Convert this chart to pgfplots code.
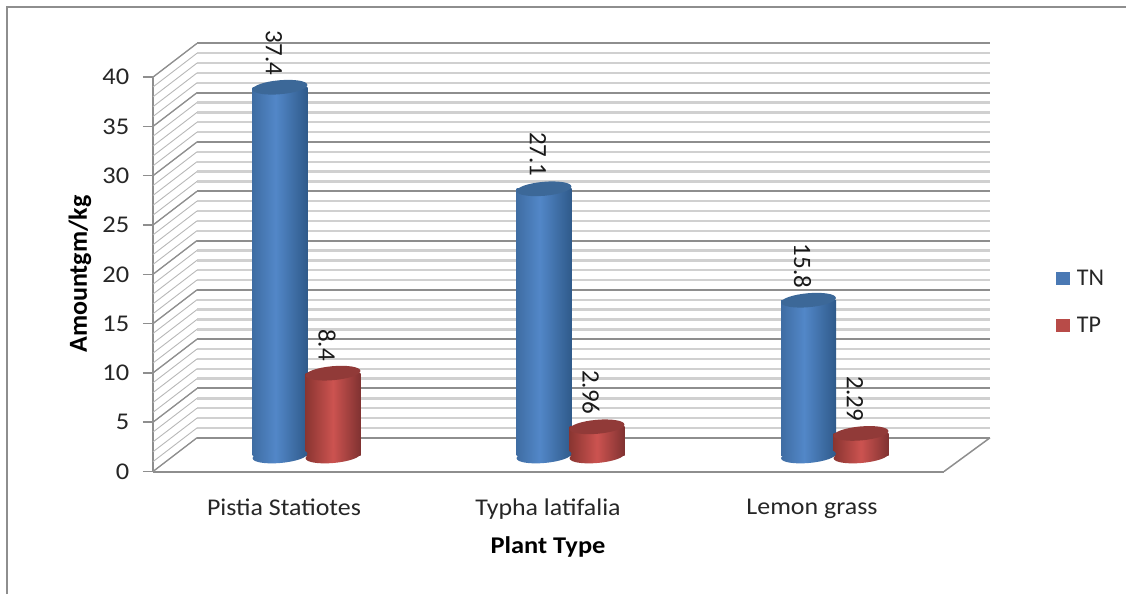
\documentclass[border=0pt]{standalone}
\usepackage{fontspec}
\setmainfont{Carlito}
\usepackage{pgfplots}
\pgfplotsset{compat=1.18}

\definecolor{tnedgeL}{HTML}{3F6DA3}
\definecolor{tnmid}{HTML}{5287C8}
\definecolor{tnedgeR}{HTML}{2F5A8A}
\definecolor{tncap}{HTML}{3C6898}
\definecolor{tpedgeL}{HTML}{8A3531}
\definecolor{tpmid}{HTML}{CC5350}
\definecolor{tpedgeR}{HTML}{803231}
\definecolor{tpcap}{HTML}{913A38}
\definecolor{gridmaj}{HTML}{8E8E8E}
\definecolor{gridmin}{HTML}{D0D0D0}

\pgfdeclarehorizontalshading{cylblue}{100bp}{color(0bp)=(tnedgeL); color(25bp)=(tnedgeL); color(46bp)=(tnmid); color(75bp)=(tnedgeR); color(100bp)=(tnedgeR)}
\pgfdeclarehorizontalshading{cylred}{100bp}{color(0bp)=(tpedgeL); color(25bp)=(tpedgeL); color(50bp)=(tpmid); color(75bp)=(tpedgeR); color(100bp)=(tpedgeR)}

% tilted ends of the cylinders
\pgfdeclareplotmark{cylcap}{%
  \pgftransformrotate{5}%
  \pgfpathellipse{\pgfpointorigin}{\pgfqpoint{27.5pt}{0pt}}{\pgfqpoint{0pt}{7pt}}%
  \pgfusepathqfill}
\pgfdeclareplotmark{baseblue}{%
  \pgftransformrotate{5}%
  \pgfpathellipse{\pgfpointorigin}{\pgfqpoint{27.5pt}{0pt}}{\pgfqpoint{0pt}{7pt}}%
  \pgfshadepath{cylblue}{0}\pgfusepath{discard}}
\pgfdeclareplotmark{basered}{%
  \pgftransformrotate{5}%
  \pgfpathellipse{\pgfpointorigin}{\pgfqpoint{27.5pt}{0pt}}{\pgfqpoint{0pt}{7pt}}%
  \pgfshadepath{cylred}{0}\pgfusepath{discard}}

\newcommand\txt{\fontsize{24}{28}\selectfont}

\begin{document}
\begin{tikzpicture}[x=1pt,y=1pt]
  \useasboundingbox (-153,-122.5) rectangle (973,471.5);
  % chart frame
  \draw[gridmaj,line width=2.2pt] (-146,-122.5) -- (-146,464.5) -- (973,464.5);

  % back wall
  \begin{axis}[
      at={(44pt,33.7pt)}, anchor=south west,
      scale only axis, width=793pt, height=394.4pt,
      xmin=0, xmax=1, ymin=0, ymax=40,
      axis line style={draw=none},
      tick style={draw=none},
      xtick=\empty, ytick={0,5,...,40}, yticklabels={},
      minor y tick num=4,
      ymajorgrids, yminorgrids,
      major grid style={draw=gridmaj,line width=2pt},
      minor grid style={draw=gridmin,line width=2.4pt},
    ]
    \addplot[draw=none] coordinates {(0,0) (1,40)};
  \end{axis}

  % front axes, side wall, floor
  \begin{axis}[
      at={(0pt,0pt)}, anchor=south west,
      scale only axis, width=791pt, height=394.4pt,
      xmin=153, xmax=944, ymin=0, ymax=40,
      axis x line*=bottom, axis y line*=left,
      axis line style={draw=gridmaj,line width=2pt,-},
      clip=false,
      ytick={0,5,...,40},
      xtick={284,548,812},
      xticklabels={Pistia Statiotes,Typha latifalia,Lemon grass},
      tick align=outside,
      major tick length=10pt,
      major y tick style={draw=gridmaj,line width=1.6pt},
      major x tick style={draw=none},
      tick label style={font=\txt,text=black!85},
      yticklabel style={xscale=1.1,xshift=-9pt,/pgf/number format/assume math mode=true},
      xticklabel style={xscale=1.08,yshift=-14pt},
      ylabel={\textbf{Amountgm/kg}},
      xlabel={\textbf{Plant Type}},
      every axis y label/.style={at={(axis cs:80,20.02)},anchor=center,rotate=90,font=\fontsize{26}{30}\selectfont},
      every axis x label/.style={at={(axis cs:548,-7.7)},anchor=center,xscale=1.1,font=\txt},
    ]
    \addplot[draw=none,forget plot] coordinates {(153,0) (944,40)};
    \pgfplotsinvokeforeach{0,...,40}{
      \draw[black!28,line width=0.9pt] (axis cs:153,#1) -- (axis cs:197,#1+3.42);
    }
    \pgfplotsinvokeforeach{0,5,...,40}{
      \draw[gridmaj,line width=1.3pt] (axis cs:153,#1) -- (axis cs:197,#1+3.42);
    }
    \draw[gridmaj,line width=1.5pt] (axis cs:944,0) -- (axis cs:990,3.42);
  \end{axis}

  % cylinders; the axis is shifted so that a value of 0 is the foot of a cylinder
  \begin{axis}[
      at={(0pt,0pt)}, anchor=south west,
      scale only axis, width=791pt, height=394.4pt,
      xmin=153, xmax=944, ymin=-1.572, ymax=38.428,
      hide axis, clip=false,
      /pgf/number format/assume math mode=true,
      legend style={at={(axis cs:1053,15.6)},anchor=west,draw=none,fill=none,
        row sep=30pt,font=\txt,nodes={inner sep=0pt,text=black!85}},
      legend cell align=left,
      legend image code/.code={\fill[draw=none,#1] (0pt,-6.5pt) rectangle (13.5pt,6.5pt);\path (20.5pt,0pt);},
      nodes near coords style={font=\fontsize{25}{29}\selectfont,text=black!90,xshift=-6pt,yshift=12pt,rotate=-90,anchor=east,inner sep=0pt},
    ]
    % TN
    \addplot[only marks,mark=baseblue,forget plot] coordinates {(280,0) (544,0) (808.5,0)};
    \addplot[ybar,bar width=55pt,bar shift=0pt,draw=none,shading=cylblue,mark=none,forget plot]
      coordinates {(280,37.4)};
    \addplot[ybar,bar width=55pt,bar shift=0pt,draw=none,shading=cylblue,mark=none,forget plot]
      coordinates {(544,27.1)};
    \addplot[ybar,bar width=55pt,bar shift=0pt,draw=none,shading=cylblue,mark=none,forget plot]
      coordinates {(808.5,15.8)};
    \addplot[only marks,mark=cylcap,mark options={fill=tncap,draw=none},forget plot,
      nodes near coords] coordinates {(280,37.4) (544,27.1) (808.5,15.8)};
    % TP
    \addplot[only marks,mark=basered,forget plot] coordinates {(333,0) (597,0) (861,0)};
    \addplot[ybar,bar width=55pt,bar shift=0pt,draw=none,shading=cylred,mark=none,forget plot]
      coordinates {(333,8.4)};
    \addplot[ybar,bar width=55pt,bar shift=0pt,draw=none,shading=cylred,mark=none,forget plot]
      coordinates {(597,2.96)};
    \addplot[ybar,bar width=55pt,bar shift=0pt,draw=none,shading=cylred,mark=none,forget plot]
      coordinates {(861,2.29)};
    \addplot[only marks,mark=cylcap,mark options={fill=tpcap,draw=none},forget plot,
      nodes near coords] coordinates {(333,8.4) (597,2.96) (861,2.29)};
    \addlegendimage{fill=tnmid!90!black}
    \addlegendentry{TN}
    \addlegendimage{fill=tpmid!90!black}
    \addlegendentry{TP}
  \end{axis}
\end{tikzpicture}
\end{document}
